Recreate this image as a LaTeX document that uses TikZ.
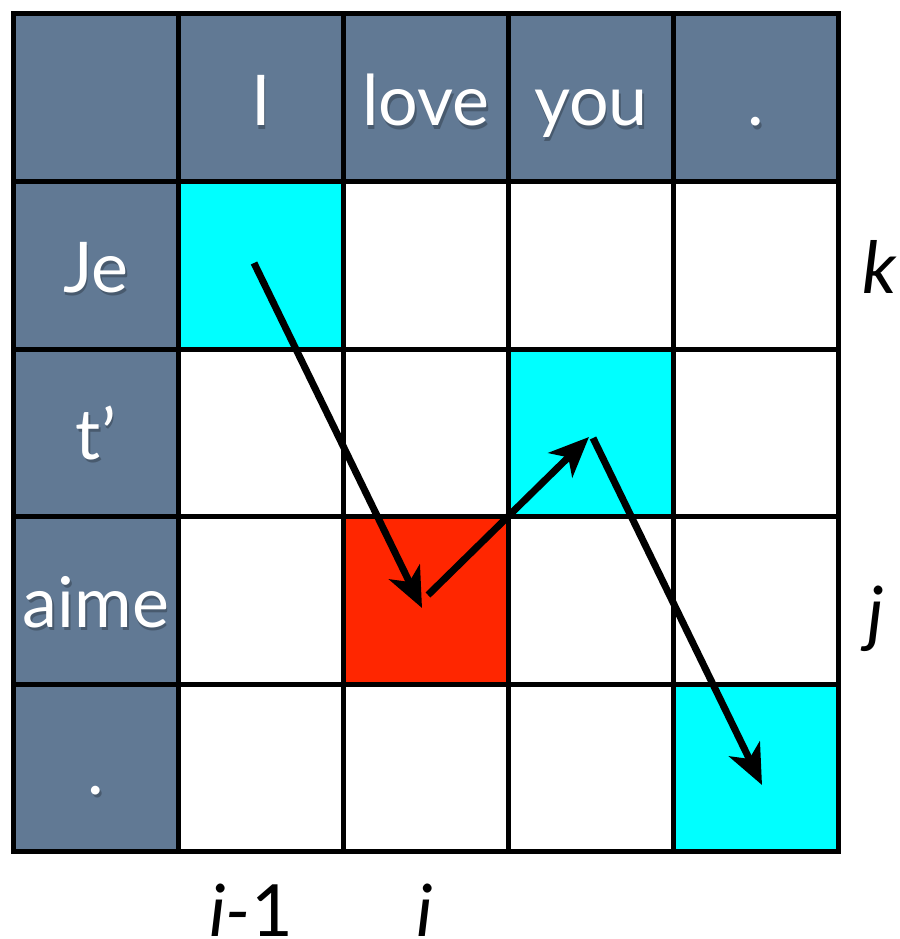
\documentclass[tikz,border=0pt]{standalone}
\usepackage{fontspec}
\setmainfont{Lato}
\usetikzlibrary{arrows.meta}
\definecolor{hdr}{RGB}{97,121,148}
\definecolor{hilite}{RGB}{0,255,255}
\definecolor{focus}{RGB}{255,38,0}
\begin{document}
\begin{tikzpicture}[x=1pt,y=-1pt,
  cellbox/.style={minimum width=165pt,minimum height=167.5pt,inner sep=0pt,outer sep=0pt,anchor=north west},
  hdrcell/.style={cellbox,fill=hdr},
  gridline/.style={line width=5pt,black,line cap=rect},
  word/.style={text=white,font=\fontsize{70}{84}\selectfont,anchor=base,inner sep=0pt},
  shadowword/.style={word,text=black,text opacity=0.25},
  idx/.style={font=\fontsize{72}{86}\selectfont\itshape,anchor=base,inner sep=0pt},
  move/.style={line width=7pt,-{Stealth[length=40pt,width=34pt,inset=11pt]}}
]
\useasboundingbox (0,0) rectangle (899,939);
% header cells
\foreach \c in {0,...,4} \node[hdrcell] (h\c) at ({13.5+165*\c},14) {};
\foreach \r in {1,...,4} \node[hdrcell] (v\r) at (13.5,{14+167.5*\r}) {};
% highlighted cells
\node[cellbox,fill=hilite] (cA) at (178.5,181.5) {};
\node[cellbox,fill=hilite] (cB) at (508.5,349) {};
\node[cellbox,fill=hilite] (cC) at (673.5,684) {};
\node[cellbox,fill=focus] (cR) at (343.5,516.5) {};
% grid lines
\foreach \k in {0,...,5} {
  \draw[gridline] ({13.5+165*\k},14) -- ({13.5+165*\k},851.5);
  \draw[gridline] (13.5,{14+167.5*\k}) -- (838.5,{14+167.5*\k});
}
% header words
\foreach \t [count=\i from 1] in {I,love,you,.} {
  \node[shadowword] at ({13.5+165*(\i+0.5)+1.5},129) {\t};
  \node[word] (w\i) at ({13.5+165*(\i+0.5)},126) {\t};
}
\foreach \t/\y [count=\i from 1] in {Je/292.25,t’/459.75,aime/627.25,./794.75} {
  \node[shadowword] at (97.5,\y+3) {\t};
  \node[word] (f\i) at (96,\y) {\t};
}
% index labels
\node[idx] (lk) at (880,293) {k};
\node[idx] (lj) at (876,638) {j};
\node[idx] (li1) at (251,936) {i-\upshape 1};
\node[idx] (li) at (425,936) {i};
% arrows
\coordinate (p0) at (254,263);
\coordinate (p1) at (422,608);
\coordinate (p2) at (428,595);
\coordinate (p3) at (589,437);
\coordinate (p4) at (593,438);
\coordinate (p5) at (762,785);
\draw[move] (p0) -- (p1);
\draw[move] (p2) -- (p3);
\draw[move] (p4) -- (p5);
\end{tikzpicture}
\end{document}
